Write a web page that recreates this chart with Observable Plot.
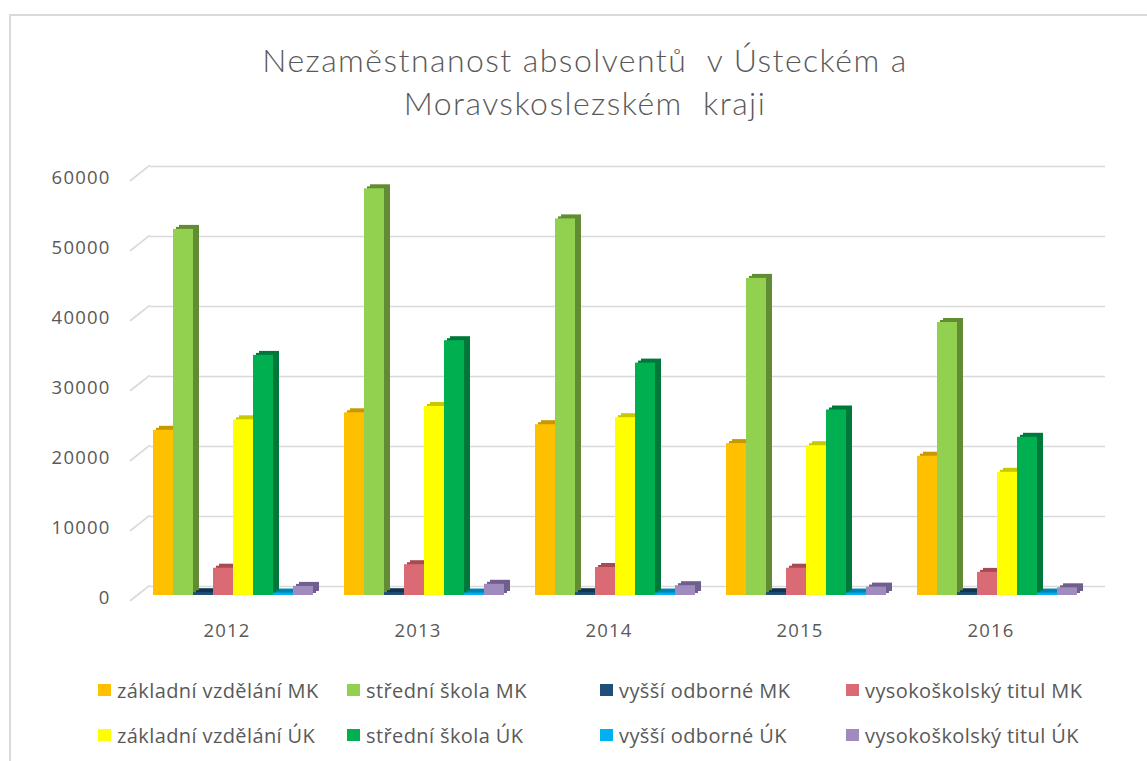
<!DOCTYPE html>
<html>
<head>
<meta charset="utf-8">
<script src="https://cdn.jsdelivr.net/npm/d3@7"></script>
<script src="https://cdn.jsdelivr.net/npm/@observablehq/plot@0.6"></script>
<style>
  html, body { margin: 0; padding: 0; background: #fff; }
  #page { position: relative; width: 1147px; height: 761px; overflow: hidden; font-family: "Open Sans", Lato, sans-serif; color: #595959; }
  #frame { position: absolute; left: 9px; top: 14px; width: 1200px; height: 800px; border-left: 2px solid #d9d9d9; border-top: 2px solid #d9d9d9; }
  #title { position: absolute; left: 0; width: 1170px; top: 38px; text-align: center; font-family: Lato, "Open Sans", sans-serif; font-weight: 300; font-size: 32px; letter-spacing: 1.45px; line-height: 43px; color: #595959; }
  #chart { position: absolute; left: 0; top: 150px; }
  .leg { position: absolute; display: flex; align-items: center; font-size: 20px; letter-spacing: 0.4px; color: #595959; white-space: nowrap; }
  .sw { width: 13px; height: 12px; margin-right: 6px; flex: none; }
</style>
</head>
<body>
<div id="page">
  <div id="frame"></div>
  <div id="title"></div>
  <div id="chart"></div>
  <div id="legend"></div>
</div>
<script>
// ---- data ----
const years = ["2012", "2013", "2014", "2015", "2016"];
const seriesNames = [
  "základní vzdělání MK", "střední škola MK", "vyšší odborné MK", "vysokoškolský titul MK",
  "základní vzdělání ÚK", "střední škola ÚK", "vyšší odborné ÚK", "vysokoškolský titul ÚK"
];
const zakladniMK = [23600, 26100, 24400, 21700, 19900];
const stredniMK  = [52300, 58100, 53800, 45300, 39000];
const vyssiMK    = [400, 400, 400, 400, 400];
const vysokoMK   = [3900, 4400, 4000, 3900, 3300];
const zakladniUK = [25100, 27000, 25400, 21400, 17600];
const stredniUK  = [34300, 36400, 33200, 26500, 22600];
const vyssiUK    = [350, 350, 350, 350, 350];
const vysokoUK   = [1300, 1600, 1400, 1200, 1100];
const yTicks = [0, 10000, 20000, 30000, 40000, 50000, 60000];

const frontColors = ["#FFC000", "#92D050", "#1F4E79", "#DA6A74", "#FFFF00", "#00B050", "#00B0F0", "#A08BBF"];
const sideColors  = ["#C99700", "#628C34", "#133350", "#A64B53", "#C9C900", "#00783A", "#0083B3", "#6F5F8C"];

const titleLines = ["Nezaměstnanost absolventů\u00a0 v Ústeckém a", "Moravskoslezském\u00a0 kraji"];

// ---- build table ----
const valuesBySeries = [zakladniMK, stredniMK, vyssiMK, vysokoMK, zakladniUK, stredniUK, vyssiUK, vysokoUK];
const rows = [];
years.forEach((yr, i) => {
  seriesNames.forEach((s, k) => {
    rows.push({year: yr, series: s, value: valuesBySeries[k][i], front: frontColors[k], side: sideColors[k]});
  });
});

document.getElementById("title").innerHTML = titleLines.join("<br>");

const fmt = d3.format("d");
const chart = Plot.plot({
  width: 1147,
  height: 500,
  marginLeft: 135,
  marginRight: 53,
  marginTop: 25,
  marginBottom: 55,
  style: {fontFamily: "'Open Sans', sans-serif", fontSize: "18.5px", color: "#595959", background: "transparent", overflow: "visible"},
  fx: {domain: years, paddingInner: 0.155, paddingOuter: 0.0775, label: null, axis: null},
  x: {domain: seriesNames, axis: null, paddingInner: 0, paddingOuter: 0},
  y: {domain: [0, 60000], axis: null},
  color: {type: "identity"},
  marks: [
    Plot.ruleY(yTicks, {stroke: "#d9d9d9", strokeWidth: 1.6, dx: 13, dy: -9, insetLeft: -15, insetRight: -15}),
    // side-wall edges of the gridlines, first panel only
    Plot.vector(yTicks, {fx: () => years[0], y: d => d, frameAnchor: "left", length: 24, rotate: 52, anchor: "start", r: 0, dx: -22, dy: 5, stroke: "#d9d9d9", strokeWidth: 1.6}),
    // y tick labels, drawn once in the first year panel
    Plot.text(yTicks, {fx: () => years[0], y: d => d, text: d => fmt(d), frameAnchor: "left", textAnchor: "end", dx: -42, dy: 3, fill: "#595959", fontSize: 18.5}),
    Plot.barY(rows, {fx: "year", x: "series", y: "value", fill: "side", dx: 6, dy: -4}),
    Plot.barY(rows, {fx: "year", x: "series", y: "value", fill: "side", dx: 3, dy: -2}),
    Plot.barY(rows, {fx: "year", x: "series", y: "value", fill: "front"}),
    // year labels
    Plot.text(years, {fx: d => d, text: d => d, frameAnchor: "bottom", dx: -6, dy: 41, fill: "#595959", fontSize: 18.5})
  ]
});
chart.querySelectorAll("text").forEach(t => t.setAttribute("letter-spacing", "1.2"));
document.getElementById("chart").appendChild(chart);

// ---- legend ----
const legX = [98, 347, 600, 846];
const legY = [690, 735];
const legend = document.getElementById("legend");
seriesNames.forEach((s, k) => {
  const el = document.createElement("div");
  el.className = "leg";
  el.style.left = legX[k % 4] + "px";
  el.style.top = (legY[Math.floor(k / 4)] - 14) + "px";
  el.style.height = "28px";
  el.innerHTML = `<span class="sw" style="background:${frontColors[k]}"></span><span>${s}</span>`;
  legend.appendChild(el);
});
</script>
</body>
</html>
